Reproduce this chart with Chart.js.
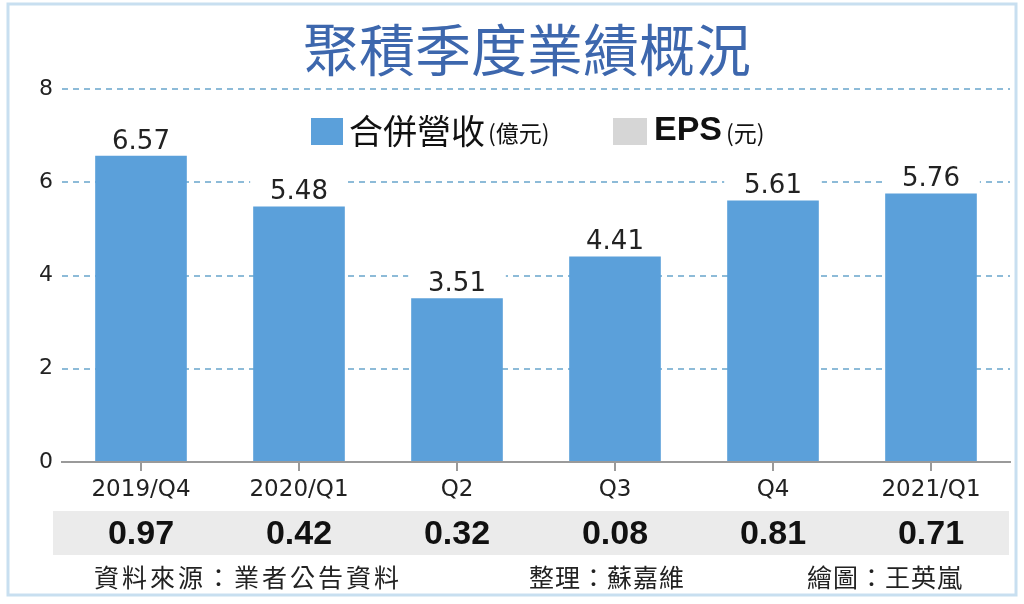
<!DOCTYPE html>
<html>
<head>
<meta charset="utf-8">
<script src="https://cdn.jsdelivr.net/npm/chart.js@4/dist/chart.umd.min.js"></script>
<style>
  html, body { margin: 0; padding: 0; background: #fff; }
  #wrap { width: 1024px; height: 604px; }
</style>
</head>
<body>
<div id="wrap"><canvas id="chart" width="1024" height="604"></canvas></div>
<script>
// data
const quarters = ["2019/Q4", "2020/Q1", "Q2", "Q3", "Q4", "2021/Q1"];
const revenue = [6.57, 5.48, 3.51, 4.41, 5.61, 5.76];   // 合併營收 (億元)
const eps = [0.97, 0.42, 0.32, 0.08, 0.81, 0.71];        // EPS (元)
const yTicks = [0, 2, 4, 6, 8];

const title_text = "聚積季度業績概況";
const footer_texts = ["資料來源：業者公告資料", "整理：蘇嘉維", "繪圖：王英嵐"];

const bar_colour = "#5ba0da";
const eps_colour = "#d6d6d6";
const cjk = "'Noto Sans CJK TC', 'Noto Sans CJK SC', sans-serif";

// everything around the bars: frame, title, legend, EPS row, footer
const decor = {
    id: "decor",
    beforeDraw(chart) {
        const ctx = chart.ctx;
        ctx.save();
        ctx.fillStyle = "#fff";
        ctx.fillRect(0, 0, chart.width, chart.height);
        ctx.strokeStyle = "#c8dff0";
        ctx.lineWidth = 3;
        ctx.strokeRect(8, 4, 1008, 591);
        ctx.restore();
    },
    afterDatasetsDraw(chart) {
        const ctx = chart.ctx;
        const meta = chart.getDatasetMeta(0);
        ctx.save();
        ctx.font = "26px 'DejaVu Sans'";
        ctx.textAlign = "center";
        ctx.textBaseline = "alphabetic";
        meta.data.forEach((bar, i) => {
            const w = bar.width;
            // white patch so the dashed grid stops behind the label
            ctx.fillStyle = "#fff";
            ctx.fillRect(bar.x - w / 2 - 3, bar.y - 34, w + 6, 32);
            ctx.fillStyle = "#222";
            ctx.fillText(revenue[i].toFixed(2), bar.x, bar.y - 7);
        });
        ctx.restore();
    },
    afterDraw(chart) {
        const ctx = chart.ctx;
        const x = chart.scales.x;
        ctx.save();

        // title
        ctx.fillStyle = "#3d67ad";
        ctx.font = "400 56px " + cjk;
        ctx.textAlign = "center";
        ctx.textBaseline = "middle";
        ctx.fillText(title_text, 527, 50);

        // legend
        ctx.textAlign = "left";
        ctx.fillStyle = bar_colour;
        ctx.fillRect(311, 118, 32, 27);
        ctx.fillStyle = "#111";
        ctx.font = "34px " + cjk;
        ctx.fillText("合併營收", 349, 131);
        let tw = ctx.measureText("合併營收").width;
        ctx.font = "23px " + cjk;
        ctx.fillText("(億元)", 349 + tw + 3, 133);

        ctx.fillStyle = eps_colour;
        ctx.fillRect(613, 118, 34, 27);
        ctx.fillStyle = "#111";
        ctx.font = "bold 34px 'Liberation Sans'";
        ctx.fillText("EPS", 654, 131);
        tw = ctx.measureText("EPS").width;
        ctx.font = "23px " + cjk;
        ctx.fillText("(元)", 654 + tw + 4, 133);

        // EPS row
        ctx.fillStyle = "#ebebeb";
        ctx.fillRect(53, 511, 956, 44);
        ctx.fillStyle = "#111";
        ctx.font = "bold 34px 'Liberation Sans'";
        ctx.textAlign = "center";
        eps.forEach((v, i) => {
            ctx.fillText(v.toFixed(2), x.getPixelForValue(i), 535);
        });

        // footer
        ctx.fillStyle = "#222";
        ctx.font = "25px " + cjk;
        ctx.textAlign = "left";
        ctx.letterSpacing = "3px";
        ctx.fillText(footer_texts[0], 94, 577);
        ctx.letterSpacing = "1px";
        ctx.fillText(footer_texts[1], 529, 577);
        ctx.fillText(footer_texts[2], 807, 577);
        ctx.restore();
    }
};

const config_bar = {
    type: "bar",
    data: {
        labels: quarters,
        datasets: [{
            label: "合併營收(億元)",
            data: revenue,
            backgroundColor: bar_colour,
            barPercentage: 0.58,
            categoryPercentage: 1.0
        }]
    },
    options: {
        responsive: false,
        animation: false,
        devicePixelRatio: 1,
        layout: {
            padding: { top: 89, right: 14, left: 0, bottom: 0 }
        },
        plugins: {
            legend: { display: false },
            tooltip: { enabled: false }
        },
        scales: {
            x: {
                grid: {
                    display: true,
                    drawOnChartArea: false,
                    offset: false,          // tick marks under the bar centres
                    drawTicks: true,
                    tickLength: 9,
                    color: "#9a9a9a",
                    lineWidth: 2
                },
                border: { display: true, color: "#9a9a9a", width: 2 },
                ticks: {
                    font: { family: "'DejaVu Sans'", size: 23 },
                    color: "#222",
                    padding: 5
                },
                afterFit: (scale) => { scale.height = 142; }
            },
            y: {
                min: 0,
                max: 8,
                afterBuildTicks: (scale) => {
                    scale.ticks = yTicks.map(v => ({ value: v }));
                },
                ticks: {
                    font: { family: "'DejaVu Sans'", size: 22 },
                    color: "#222",
                    padding: 9
                },
                grid: {
                    drawTicks: false,
                    lineWidth: 2,
                    color: (c) => c.tick && c.tick.value === 0 ? "rgba(0,0,0,0)" : "#8dbbd8"
                },
                border: { display: false, dash: [6, 5] },
                afterFit: (scale) => { scale.width = 62; }
            }
        }
    },
    plugins: [decor]
};

const ctx_bar = document.getElementById("chart").getContext("2d");
const bar_chart = new Chart(ctx_bar, config_bar);
</script>
</body>
</html>
